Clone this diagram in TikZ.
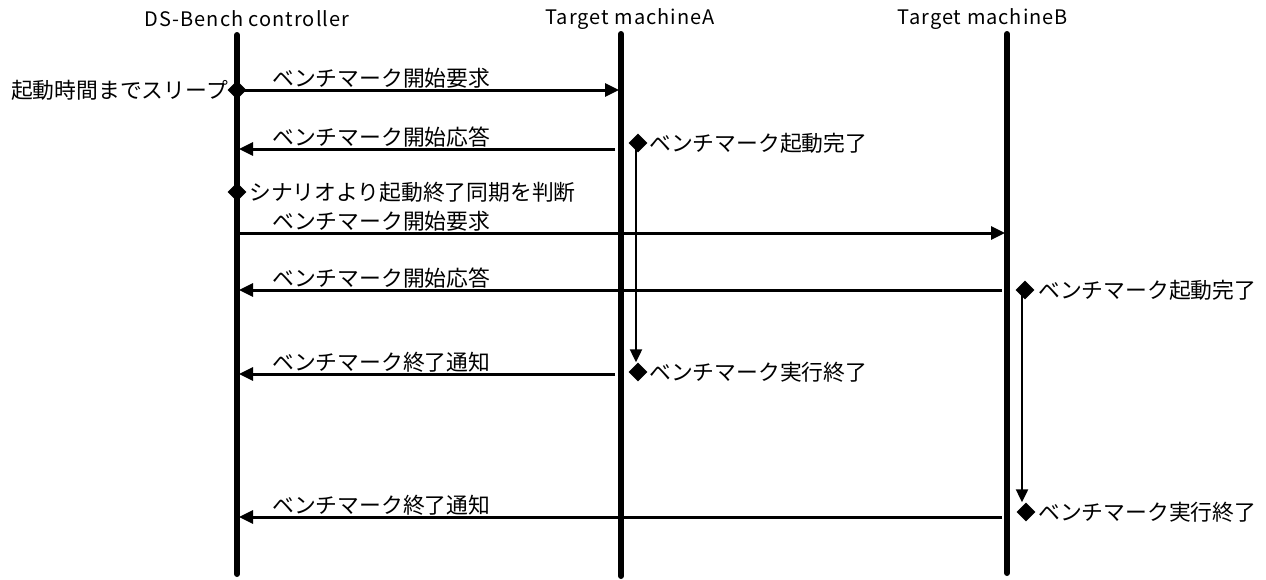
\documentclass[tikz,border=0pt]{standalone}
\usepackage{fontspec}
\setmainfont{Noto Sans CJK JP}
\newfontfamily\headfont[LetterSpace=5]{Noto Sans CJK JP}
\usetikzlibrary{arrows.meta,shapes.geometric}
\begin{document}
\begin{tikzpicture}[x=1pt,y=-1pt,
  life/.style={line width=6pt,line cap=round},
  msg/.style={line width=3pt,-{Triangle[length=14pt,width=13pt]}},
  dur/.style={line width=2.2pt,-{Triangle[length=13pt,width=12pt]}},
  evt/.style={diamond,fill=black,minimum size=19pt,inner sep=0pt},
  lbl/.style={font=\fontsize{21.8}{24}\selectfont,inner sep=0pt},
  head/.style={font=\headfont\fontsize{20}{22}\selectfont,inner sep=0pt}]
\useasboundingbox (0,0) rectangle (1266,579);
% headers
\node[head] (hC) at (247,19) {DS-Bench controller};
\node[head] (hA) at (630,19) {Target machineA};
\node[head] (hB) at (983,19) {Target machineB};
% lifelines
\coordinate (Ct) at (237,35); \coordinate (Cb) at (237,574);
\coordinate (At) at (621,34); \coordinate (Ab) at (621,576);
\coordinate (Bt) at (1007,34); \coordinate (Bb) at (1007,573);
\draw[life] (Ct) -- (Cb);
\draw[life] (At) -- (Ab);
\draw[life] (Bt) -- (Bb);
% message 1
\coordinate (m1s) at (237,90); \coordinate (m1e) at (619,90);
\draw[msg] (m1s) -- (m1e);
\node[evt] (d1) at (237,90) {};
\node[lbl,anchor=east] (t1) at (228,90) {起動時間までスリープ};
\node[lbl,anchor=base west] (l1) at (272,86) {ベンチマーク開始要求};
% message 2
\coordinate (m2s) at (615,149); \coordinate (m2e) at (239,149);
\draw[msg] (m2s) -- (m2e);
\node[lbl,anchor=base west] (l2) at (272,145) {ベンチマーク開始応答};
\node[evt] (d2) at (638,143) {};
\node[lbl,anchor=west] (t2) at (649,143) {ベンチマーク起動完了};
% A duration
\node[evt] (d3) at (638,372) {};
\node[lbl,anchor=west] (t3) at (649,372) {ベンチマーク実行終了};
\draw[dur] ([xshift=-2pt]d2.center) -- ([xshift=-2pt]d3.north);
% controller decision
\node[evt] (d4) at (237,192) {};
\node[lbl,anchor=west] (t4) at (249,192) {シナリオより起動終了同期を判断};
% message 3
\coordinate (m3s) at (237,233); \coordinate (m3e) at (1005,233);
\draw[msg] (m3s) -- (m3e);
\node[lbl,anchor=base west] (l3) at (272,229) {ベンチマーク開始要求};
% message 4
\coordinate (m4s) at (1002,290); \coordinate (m4e) at (239,290);
\draw[msg] (m4s) -- (m4e);
\node[lbl,anchor=base west] (l4) at (272,286) {ベンチマーク開始応答};
\node[evt] (d5) at (1025,290) {};
\node[lbl,anchor=west] (t5) at (1038,290) {ベンチマーク起動完了};
% B duration
\node[evt] (d6) at (1026,512) {};
\node[lbl,anchor=west] (t6) at (1038,512) {ベンチマーク実行終了};
\draw[dur] ([xshift=-3pt]d5.center) -- ([xshift=-4pt]d6.north);
% message 5
\coordinate (m5s) at (615,374); \coordinate (m5e) at (239,374);
\draw[msg] (m5s) -- (m5e);
\node[lbl,anchor=base west] (l5) at (272,370) {ベンチマーク終了通知};
% message 6
\coordinate (m6s) at (1002,517); \coordinate (m6e) at (239,517);
\draw[msg] (m6s) -- (m6e);
\node[lbl,anchor=base west] (l6) at (272,513) {ベンチマーク終了通知};
\end{tikzpicture}
\end{document}
